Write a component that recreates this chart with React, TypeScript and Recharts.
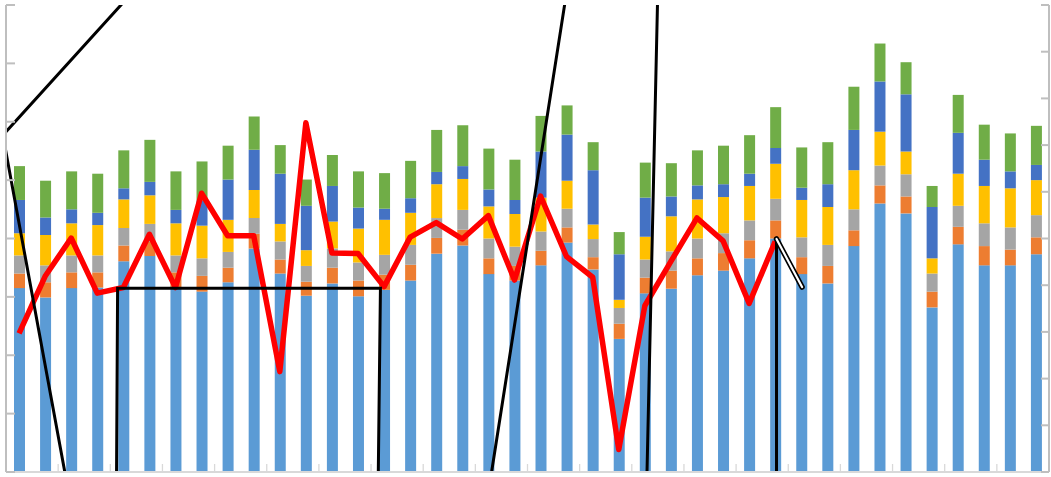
import { ComposedChart, Bar, Line, XAxis, YAxis } from 'recharts';

// 40 periods, no visible labels in the source chart
const categories = [
  '1', '2', '3', '4', '5', '6', '7', '8', '9', '10',
  '11', '12', '13', '14', '15', '16', '17', '18', '19', '20',
  '21', '22', '23', '24', '25', '26', '27', '28', '29', '30',
  '31', '32', '33', '34', '35', '36', '37', '38', '39', '40',
];

// stacked bar segments, bottom to top (left axis)
const lightBlue = [
  31.5, 29.9, 31.5, 31.6, 36.1, 37.0, 31.5, 30.9, 32.5, 38.3,
  34.0, 30.2, 32.3, 30.1, 31.2, 32.8, 37.4, 38.8, 33.9, 32.8,
  35.4, 39.3, 34.7, 22.8, 30.6, 31.4, 33.7, 34.5, 36.6, 40.0,
  33.9, 32.3, 38.7, 46.0, 44.3, 28.2, 39.0, 35.4, 35.4, 37.3,
];
const orange = [
  2.5, 2.6, 2.7, 2.6, 2.7, 2.4, 2.7, 2.7, 2.5, 2.5,
  2.4, 2.4, 2.7, 2.7, 2.6, 2.7, 2.7, 2.7, 2.7, 2.5,
  2.5, 2.6, 2.1, 2.6, 2.7, 3.1, 2.9, 3.0, 3.1, 3.1,
  2.9, 3.0, 2.7, 3.1, 2.9, 2.7, 3.0, 3.3, 2.7, 2.9,
];
const gray = [
  3.1, 2.9, 2.9, 2.9, 3.0, 3.1, 2.9, 3.0, 2.7, 2.7,
  3.1, 2.7, 3.3, 3.1, 3.4, 3.4, 3.4, 3.4, 3.4, 3.3,
  3.3, 3.2, 3.1, 2.7, 3.1, 3.3, 3.4, 3.4, 3.4, 3.7,
  3.4, 3.6, 3.6, 3.4, 3.8, 3.1, 3.6, 3.9, 3.8, 3.8,
];
const yellow = [
  3.8, 5.2, 5.5, 5.2, 4.9, 4.9, 5.5, 5.6, 5.5, 4.8,
  3.0, 2.7, 4.6, 5.8, 6.0, 5.5, 5.8, 5.3, 5.5, 5.6,
  5.8, 4.8, 2.5, 1.4, 3.9, 6.0, 6.7, 6.2, 5.9, 6.0,
  6.4, 6.5, 6.7, 5.8, 3.9, 2.6, 5.5, 6.4, 6.7, 6.0,
];
const darkBlue = [
  5.7, 3.0, 2.4, 2.1, 1.9, 2.3, 2.3, 4.3, 6.9, 6.9,
  8.6, 7.6, 6.1, 3.6, 1.9, 2.5, 2.1, 2.2, 2.9, 2.4,
  7.9, 7.9, 9.3, 7.8, 6.7, 3.4, 2.4, 2.2, 2.1, 2.7,
  2.1, 3.9, 6.9, 8.6, 9.8, 8.8, 7.0, 4.5, 2.9, 2.6,
];
const green = [
  5.8, 6.3, 6.5, 6.7, 6.5, 7.2, 6.6, 6.7, 5.8, 5.7,
  4.9, 4.5, 5.3, 6.2, 6.1, 6.4, 7.2, 7.0, 7.0, 6.9,
  6.1, 5.0, 4.8, 3.8, 6.0, 5.7, 6.0, 6.6, 6.6, 7.0,
  6.9, 7.2, 7.4, 6.5, 5.5, 3.6, 6.5, 6.0, 6.5, 6.7,
];

// red line (right axis), ends after the 30th period
const redLine = [
  29.7, 41.9, 50.1, 38.3, 39.5, 50.9, 39.5, 59.7, 50.6, 50.6,
  21.5, 74.8, 46.9, 46.8, 39.7, 50.3, 53.4, 49.9, 54.9, 41.1,
  59.1, 46.1, 41.7, 4.8, 35.6, 45.1, 54.4, 49.5, 36.1, 49.4,
  null, null, null, null, null, null, null, null, null, null,
];

// black line: x in period units, y in right-axis units (runs off the plot)
const blackX = [14.54, -0.62, 3.68, 3.78, 13.86, 13.43, 25.08, 23.8, 29.05, 29.05, 30.03];
const blackY = [165.5, 72.1, -58.4, 39.33, 39.33, -167.6, 248.5, -70.6, -70.6, 49.9, 39.6];
const tailX = [29.05, 30.03];
const tailY = [49.9, 39.6];

const xTicks = [
  -0.5, 1.5, 3.5, 5.5, 7.5, 9.5, 11.5, 13.5, 15.5, 17.5, 19.5,
  21.5, 23.5, 25.5, 27.5, 29.5, 31.5, 33.5, 35.5, 37.5, 39.5,
];
const leftTicks = [0, 10, 20, 30, 40, 50, 60, 70, 80];
const rightTicks = [0, 10, 20, 30, 40, 50, 60, 70, 80, 90, 100];

const rows = categories.map((cat, i) => ({
  cat,
  lightBlue: lightBlue[i],
  orange: orange[i],
  gray: gray[i],
  yellow: yellow[i],
  darkBlue: darkBlue[i],
  green: green[i],
  red: redLine[i],
}));
const blackRows = blackX.map((bx, i) => ({ bx, by: blackY[i] }));
const tailRows = tailX.map((bx, i) => ({ bx, by: tailY[i] }));

const stacks = [
  { key: 'lightBlue', color: '#5B9BD5' },
  { key: 'orange', color: '#ED7D31' },
  { key: 'gray', color: '#A5A5A5' },
  { key: 'yellow', color: '#FFC000' },
  { key: 'darkBlue', color: '#4472C4' },
  { key: 'green', color: '#70AD47' },
];

// no tick labels anywhere, only the tick marks
const NoLabel = () => <g />;

export default function App() {
  return (
    <div style={{ position: 'absolute', left: 0, top: 0, width: 1051, height: 477, background: '#fff' }}>
      <ComposedChart
        width={1051}
        height={477}
        data={rows}
        margin={{ top: 5, right: 2, bottom: 5, left: 6 }}
      >
        <XAxis xAxisId="cat" dataKey="cat" type="category" hide />
        <XAxis
          xAxisId="num"
          dataKey="bx"
          type="number"
          domain={[-0.5, 39.5]}
          allowDataOverflow
          ticks={xTicks}
          interval={0}
          tick={NoLabel}
          mirror
          height={1}
          tickSize={8}
          tickLine={{ stroke: '#D9D9D9', strokeWidth: 1.3 }}
          axisLine={{ stroke: '#D9D9D9', strokeWidth: 2 }}
        />
        <YAxis
          yAxisId="left"
          orientation="left"
          domain={[0, 80]}
          ticks={leftTicks}
          interval={0}
          tick={NoLabel}
          mirror
          width={1}
          tickSize={9}
          tickLine={{ stroke: '#BFBFBF', strokeWidth: 2 }}
          axisLine={{ stroke: '#BFBFBF', strokeWidth: 2 }}
        />
        <YAxis
          yAxisId="right"
          orientation="right"
          domain={[0, 100]}
          allowDataOverflow
          ticks={rightTicks}
          interval={0}
          tick={NoLabel}
          mirror
          width={1}
          tickSize={8}
          tickLine={{ stroke: '#BFBFBF', strokeWidth: 2 }}
          axisLine={{ stroke: '#BFBFBF', strokeWidth: 2 }}
        />
        {stacks.map((s) => (
          <Bar
            key={s.key}
            xAxisId="cat"
            yAxisId="left"
            dataKey={s.key}
            stackId="a"
            fill={s.color}
            barSize={11}
            isAnimationActive={false}
          />
        ))}
        <Line
          xAxisId="cat"
          yAxisId="right"
          dataKey="red"
          stroke="#FF0000"
          strokeWidth={5.5}
          strokeLinejoin="round"
          dot={false}
          activeDot={false}
          isAnimationActive={false}
        />
        <Line
          data={blackRows}
          xAxisId="num"
          yAxisId="right"
          dataKey="by"
          type="linear"
          stroke="#000000"
          strokeWidth={3}
          dot={false}
          activeDot={false}
          isAnimationActive={false}
        />
        <Line
          data={tailRows}
          xAxisId="num"
          yAxisId="right"
          dataKey="by"
          type="linear"
          stroke="#000000"
          strokeWidth={5.5}
          strokeLinecap="round"
          strokeLinejoin="round"
          dot={false}
          activeDot={false}
          isAnimationActive={false}
        />
        <Line
          data={tailRows}
          xAxisId="num"
          yAxisId="right"
          dataKey="by"
          type="linear"
          stroke="#FFFFFF"
          strokeWidth={2.2}
          strokeLinecap="round"
          dot={false}
          activeDot={false}
          isAnimationActive={false}
        />
      </ComposedChart>
    </div>
  );
}
